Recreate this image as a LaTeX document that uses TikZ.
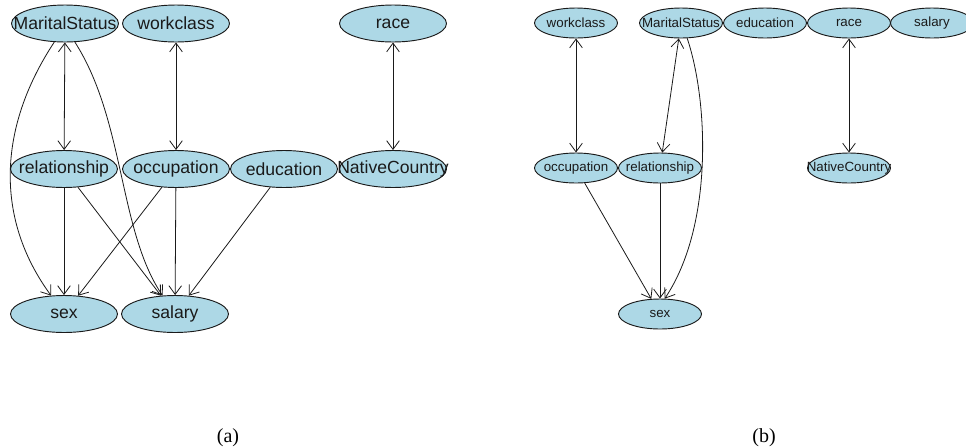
\documentclass[tikz,border=0pt]{standalone}
\usepackage{fontspec}
\setmainfont{Liberation Serif}
\setsansfont{Liberation Sans}
\usetikzlibrary{arrows.meta,shapes.geometric}
\definecolor{ink}{HTML}{1A1A1A}
\definecolor{nodefill}{HTML}{ADD8E6}
\tikzset{
  varbig/.style={ellipse,draw=ink,line width=0.7pt,fill=nodefill,inner sep=0pt,
                 minimum width=80.25pt,minimum height=27.75pt,
                 font=\sffamily\fontsize{13.2}{15}\selectfont,text=ink},
  varsmall/.style={ellipse,draw=ink,line width=0.7pt,fill=nodefill,inner sep=0pt,
                   minimum width=62.25pt,minimum height=22.5pt,
                   font=\sffamily\fontsize{10}{12}\selectfont,text=ink},
  arr/.style={-{Straight Barb[length=6.5pt,width=9.5pt]},line width=0.6pt,draw=ink},
  biarr/.style={{Straight Barb[length=6.5pt,width=9.5pt]}-{Straight Barb[length=6.5pt,width=9.5pt]},
                line width=0.6pt,draw=ink},
  panel/.style={font=\fontsize{15}{18}\selectfont,anchor=base},
}
\newcommand{\vname}[1]{\makebox[0pt]{#1}}

\begin{document}
\begin{tikzpicture}[x=0.75pt,y=-0.75pt]
  \useasboundingbox (0,0) rectangle (966,447);
  \clip (0,0) rectangle (966,447);

  % ---------------------------------------------------------------- (a)
  \node[varbig] (ms)   at (65,23.5)  {\vname{MaritalStatus}};
  \node[varbig] (wc)   at (176,23.5) {\vname{workclass}};
  \node[varbig] (race) at (393,23.5) {\vname{race}};
  \node[varbig] (rel)  at (64,169)   {\vname{relationship}};
  \node[varbig] (occ)  at (176,169)  {\vname{occupation}};
  \node[varbig] (edu)  at (284,169)  {\vname{education}};
  \node[varbig] (nc)   at (393,169)  {\vname{NativeCountry}};
  \node[varbig] (sex)  at (64,314)   {\vname{sex}};
  \node[varbig] (sal)  at (175,314)  {\vname{salary}};

  \draw[biarr] (ms) -- (rel);
  \draw[biarr] (wc) -- (occ);
  \draw[biarr] (race) -- (nc);
  \draw[arr] (ms.240) .. controls +(-58,88) and +(-55,-75) .. (sex.125);
  \draw[arr] (ms.298) .. controls +(50,78) and +(-44,-65) .. (sal.124);
  \draw[arr] (rel) -- (sex);
  \draw[arr] (rel) -- (sal);
  \draw[arr] (occ) -- (sex);
  \draw[arr] (occ) -- (sal);
  \draw[arr] (edu) -- (sal);

  \node[panel] (capa) at (228,442) {(a)};

  % ---------------------------------------------------------------- (b)
  \node[varsmall] (wc2)   at (576,23)  {\vname{workclass}};
  \node[varsmall] (ms2)   at (681,23)  {\vname{MaritalStatus}};
  \node[varsmall] (edu2)  at (765,23)  {\vname{education}};
  \node[varsmall] (race2) at (849,23)  {\vname{race}};
  \node[varsmall] (sal2)  at (932,23)  {\vname{salary}};
  \node[varsmall] (occ2)  at (576,168) {\vname{occupation}};
  \node[varsmall] (rel2)  at (660,168) {\vname{relationship}};
  \node[varsmall] (nc2)   at (849,168) {\vname{NativeCountry}};
  \node[varsmall] (sex2)  at (660,314) {\vname{sex}};

  \draw[biarr] (wc2) -- (occ2);
  \draw[biarr] (ms2) -- (rel2);
  \draw[biarr] (race2) -- (nc2);
  \draw[arr] (ms2.292) .. controls +(21,62) and +(49,-73) .. (sex2.73);
  \draw[arr] (occ2) -- (sex2);
  \draw[arr] (rel2) -- (sex2);

  \node[panel] (capb) at (764,442) {(b)};
\end{tikzpicture}
\end{document}
